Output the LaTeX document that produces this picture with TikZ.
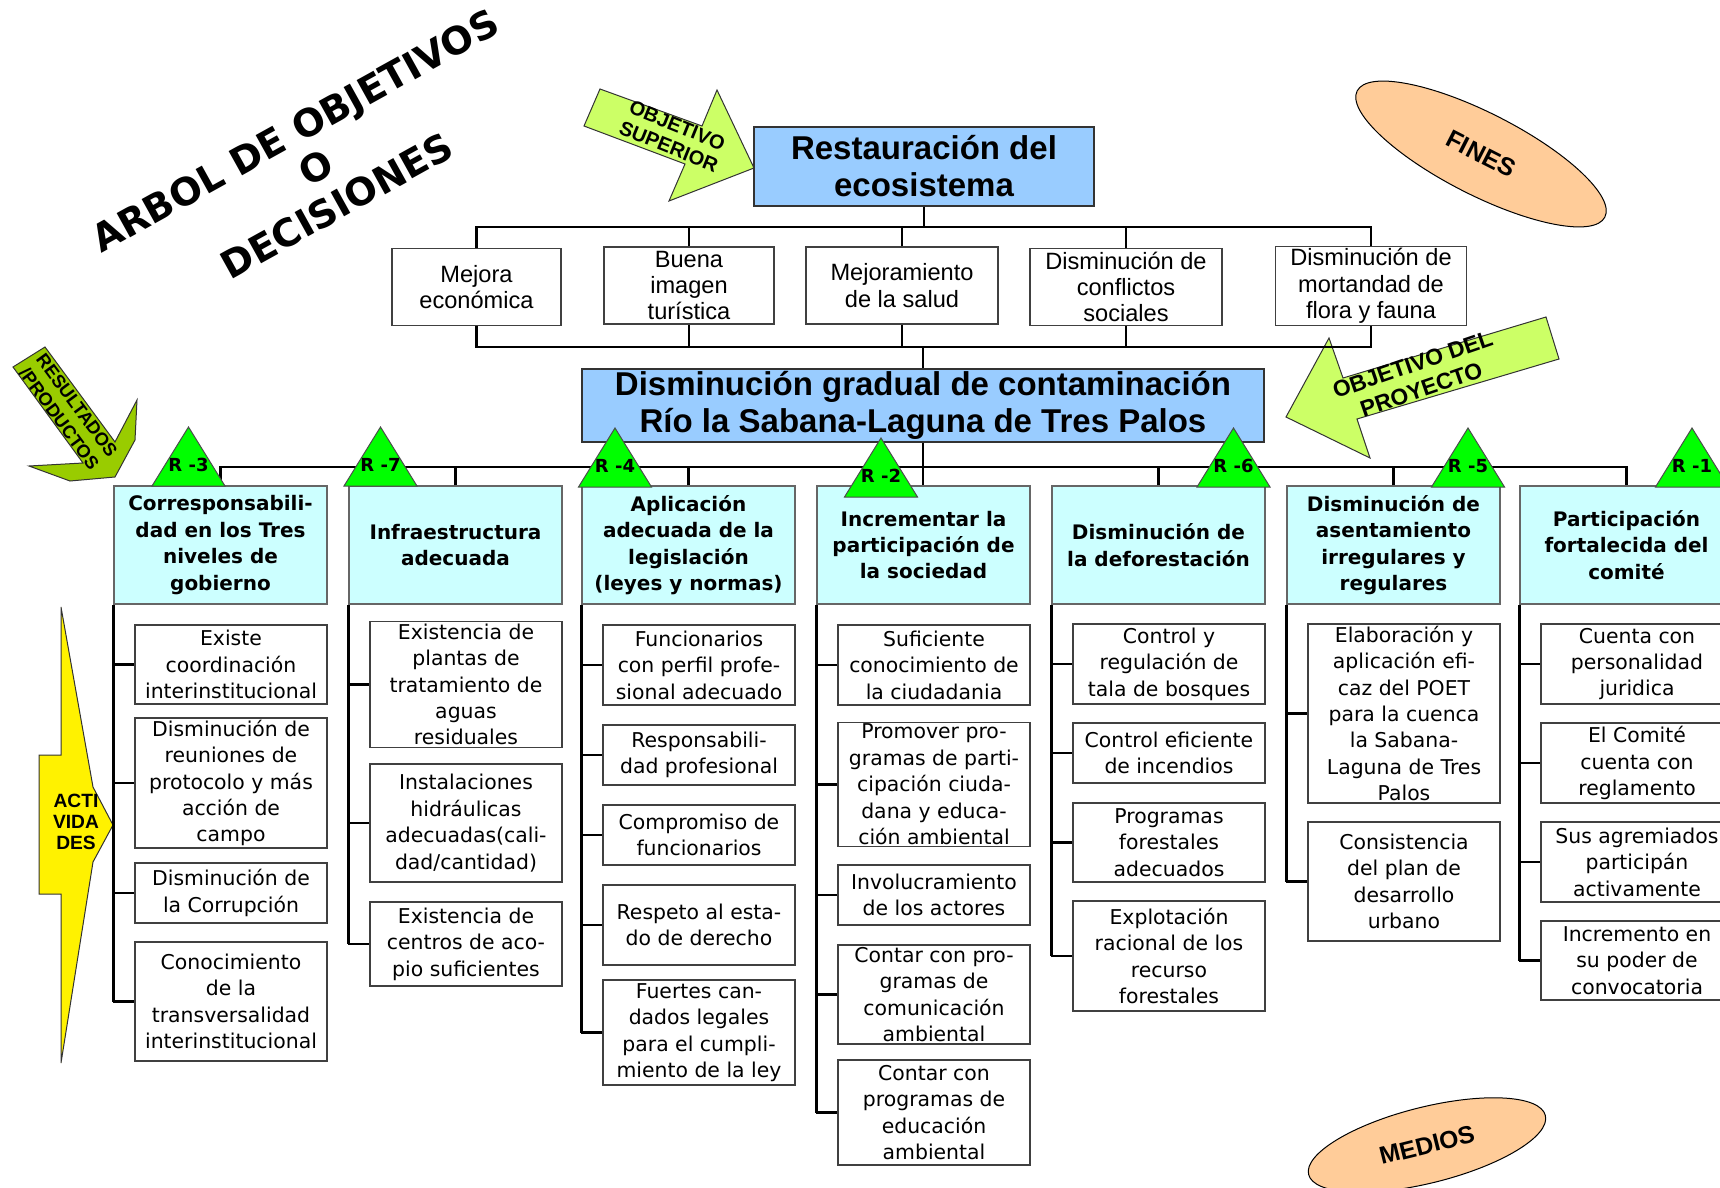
\documentclass[tikz,border=0pt]{standalone}
\usepackage{fontspec}
\setmainfont{Liberation Sans}
\newfontfamily\dvs{DejaVu Sans}
\usetikzlibrary{shapes.geometric}

\definecolor{objblue}{HTML}{99CCFF}
\definecolor{rescyan}{HTML}{CCFFFF}
\definecolor{arrowlime}{HTML}{CCFF66}
\definecolor{arrowolive}{HTML}{99CC00}
\definecolor{peach}{HTML}{FFCC99}
\definecolor{trigreen}{HTML}{00FF00}

\newcommand{\titlefont}{\dvs\bfseries\fontsize{19}{21.5}\selectfont}
\newcommand{\objfont}{\bfseries\fontsize{16.5}{18.5}\selectfont}
\newcommand{\finfont}{\fontsize{11.8}{13.2}\selectfont}
\newcommand{\resfont}{\dvs\bfseries\fontsize{10}{13.2}\selectfont}
\newcommand{\actfont}{\dvs\fontsize{10.2}{13.2}\selectfont}
\newcommand{\rfont}{\dvs\bfseries\fontsize{9}{10}\selectfont}

\tikzstyle{obj}=[draw=black!80,fill=objblue,align=center,font=\objfont,inner sep=1pt,line width=0.6pt]
\tikzstyle{fin}=[draw=black!75,fill=white,align=center,font=\finfont,inner sep=1pt,line width=0.6pt]
\tikzstyle{res}=[draw=black!60,fill=rescyan,align=center,font=\resfont,minimum width=106.5pt,minimum height=59pt,inner sep=1pt,line width=0.6pt]
\tikzstyle{act}=[draw=black!75,fill=white,align=center,font=\actfont,minimum width=96pt,inner sep=1pt,line width=0.6pt]
\tikzstyle{conn}=[line width=1.4pt]
\tikzstyle{tri}=[draw=black!70,fill=trigreen,line width=0.5pt]
\tikzstyle{rlab}=[font=\rfont,inner sep=0pt]
\tikzstyle{tag}=[align=center,inner sep=0pt]
\tikzstyle{blockarrow}=[draw=black!80,line width=0.5pt]
\tikzstyle{oval}=[ellipse,draw=black,fill=peach,inner sep=0pt,line width=0.5pt]

\begin{document}
\begin{tikzpicture}[x=0.5pt,y=-0.5pt]
    \useasboundingbox (0,0) rectangle (1720,1188);

    % title
    \node[rotate=29,align=center,font=\titlefont] (title) at (316,168) {ARBOL DE OBJETIVOS\\O\\DECISIONES};

    % block arrows
    \draw[blockarrow,fill=arrowlime] (600,89) -- (702,126) -- (717,90) -- (754,168) -- (669,201) -- (685,164) -- (584,126) -- cycle;
    \node[tag,rotate=-22,font=\bfseries\fontsize{10}{11.3}\selectfont] (sup) at (673,136) {OBJETIVO\\SUPERIOR};
    \draw[blockarrow,fill=arrowlime] (1546,317) -- (1559,359) -- (1357,419) -- (1370,458) -- (1286,417) -- (1329,338) -- (1343,378) -- cycle;
    \node[tag,rotate=19,font=\bfseries\fontsize{11.4}{13.4}\selectfont] (proy) at (1417,377) {OBJETIVO DEL\\PROYECTO};
    \draw[blockarrow,fill=arrowolive] (13,367) -- (45,347) -- (115,442) -- (137,400) -- (135,440) -- (115,477) -- (70,481) -- (29,466) -- (83,463) -- cycle;
    \node[tag,rotate=-53.6,font=\bfseries\fontsize{9.1}{11}\selectfont] (resul) at (68,412) {RESULTADOS\\/PRODUCTOS};
    \draw[blockarrow,fill=yellow] (61,607) -- (93,787) -- (113,825) -- (93,862) -- (61,1063) -- (61,894) -- (39,894) -- (39,755) -- (61,755) -- cycle;
    \node[tag,font=\bfseries\fontsize{9.6}{10.6}\selectfont] (activ) at (76,822) {ACTI\\VIDA\\DES};

    % ends and means
    \node[oval,minimum width=139pt,minimum height=41pt,rotate=-27,font=\bfseries\fontsize{12.5}{14}\selectfont] (fines) at (1481,154) {FINES};
    \node[oval,minimum width=122pt,minimum height=38pt,rotate=14,font=\bfseries\fontsize{12.3}{14}\selectfont] (medios) at (1427,1145) {MEDIOS};

    % objectives
    \node[obj,minimum width=170pt,minimum height=39.5pt] (eco) at (924,166.5) {Restauración del\\ecosistema};
    \node[obj,minimum width=341pt,minimum height=36.5pt] (proj) at (923,405.5) {Disminución gradual de contaminación\\Río la Sabana-Laguna de Tres Palos};

    \node[fin,minimum width=84.5pt,minimum height=38.5pt] (f1) at (476.5,287) {Mejora\\económica};
    \node[fin,minimum width=85pt,minimum height=38.5pt] (f2) at (689,285.5) {Buena\\imagen\\turística};
    \node[fin,minimum width=96pt,minimum height=38.5pt] (f3) at (902,285.5) {Mejoramiento\\de la salud};
    \node[fin,minimum width=96pt,minimum height=38.5pt] (f4) at (1126,287) {Disminución de\\conflictos\\sociales};
    \node[fin,minimum width=95.5pt,minimum height=38.5pt] (f5) at (1371,286) {Disminución de\\mortandad de\\flora y fauna};

    \coordinate (topbar) at (924,227);
    \coordinate (botbar) at (924,347);
    \coordinate (resbar) at (924,467);

    \draw[conn] (eco.south) -- (eco.south |- topbar);
    \draw[conn] (f1.north) |- (f5.north |- topbar) -- (f5.north);
    \draw[conn] (f1.south) |- (f5.south |- botbar) -- (f5.south);
    \foreach \n in {f2,f3,f4}
    {
        \draw[conn] (\n.north) -- (\n.north |- topbar);
        \draw[conn] (\n.south) -- (\n.south |- botbar);
    }
    \draw[conn] (proj.north |- botbar) -- (proj.north);

    % results
    \node[res] (h1) at (220.5,545)  {Corresponsabili-\\dad en los Tres\\niveles de\\gobierno};
    \node[res] (h2) at (455.5,545)  {Infraestructura\\adecuada};
    \node[res] (h3) at (688.5,545)  {Aplicación\\adecuada de la\\legislación\\(leyes y normas)};
    \node[res] (h4) at (923.5,545)  {Incrementar la\\participación de\\la sociedad};
    \node[res] (h5) at (1158.5,545) {Disminución de\\la deforestación};
    \node[res] (h6) at (1393.5,545) {Disminución de\\asentamiento\\irregulares y\\regulares};
    \node[res] (h7) at (1626.5,545) {Participación\\fortalecida del\\comité};

    \draw[conn] (proj.south) -- (proj.south |- h4.north);
    \draw[conn] (h1.north) |- (h7.north |- resbar) -- (h7.north);
    \foreach \n in {h2,h3,h5,h6}
    \draw[conn] (\n.north) -- (\n.north |- resbar);

    % activities
    \node[act,minimum height=39.5pt] (a11) at (231,664.5) {Existe\\coordinación\\interinstitucional};
    \node[act,minimum height=59pt]   (a12) at (231,783)   {Disminución de\\reuniones de\\protocolo y más\\acción de\\campo};
    \node[act,minimum height=30pt]   (a13) at (231,893)   {Disminución de\\la Corrupción};
    \node[act,minimum height=59.5pt] (a14) at (231,1001.5) {Conocimiento\\de la\\transversalidad\\interinstitucional};

    \node[act,minimum height=59.5pt] (a21) at (466,684.5) {Existencia de\\plantas de\\tratamiento de\\aguas\\residuales};
    \node[act,minimum height=59pt]   (a22) at (466,823)   {Instalaciones\\hidráulicas\\adecuadas(cali-\\dad/cantidad)};
    \node[act,minimum height=42pt]   (a23) at (466,944)   {Existencia de\\centros de aco-\\pio suficientes};

    \node[act,minimum height=40pt]   (a31) at (699,665)    {Funcionarios\\con perfil profe-\\sional adecuado};
    \node[act,minimum height=30pt]   (a32) at (699,755)    {Responsabili-\\dad profesional};
    \node[act,minimum height=30pt]   (a33) at (699,835)    {Compromiso de\\funcionarios};
    \node[act,minimum height=40pt]   (a34) at (699,925)    {Respeto al esta-\\do de derecho};
    \node[act,minimum height=52.5pt] (a35) at (699,1032.5) {Fuertes can-\\dados legales\\para el cumpli-\\miento de la ley};

    \node[act,minimum height=40pt]   (a41) at (934,665)    {Suficiente\\conocimiento de\\la ciudadania};
    \node[act,minimum height=59.5pt] (a42) at (934,784.5)  {Promover pro-\\gramas de parti-\\cipación ciuda-\\dana y educa-\\ción ambiental};
    \node[act,minimum height=30pt]   (a43) at (934,895)    {Involucramiento\\de los actores};
    \node[act,minimum height=49.5pt] (a44) at (934,994.5)  {Contar con pro-\\gramas de\\comunicación\\ambiental};
    \node[act,minimum height=52.5pt] (a45) at (934,1112.5) {Contar con\\programas de\\educación\\ambiental};

    \node[act,minimum height=40pt]   (a51) at (1169,664)   {Control y\\regulación de\\tala de bosques};
    \node[act,minimum height=30pt]   (a52) at (1169,753)   {Control eficiente\\de incendios};
    \node[act,minimum height=39.5pt] (a53) at (1169,842.5) {Programas\\forestales\\adecuados};
    \node[act,minimum height=55pt]   (a54) at (1169,956)   {Explotación\\racional de los\\recurso\\forestales};

    \node[act,minimum height=89.5pt] (a61) at (1404,713.5) {Elaboración y\\aplicación efi-\\caz del POET\\para la cuenca\\la Sabana-\\Laguna de Tres\\Palos};
    \node[act,minimum height=59.5pt] (a62) at (1404,881.5) {Consistencia\\del plan de\\desarrollo\\urbano};

    \node[act,minimum height=40pt]   (a71) at (1637,664)   {Cuenta con\\personalidad\\juridica};
    \node[act,minimum height=40pt]   (a72) at (1637,763)   {El Comité\\cuenta con\\reglamento};
    \node[act,minimum height=40pt]   (a73) at (1637,862)   {Sus agremiados\\participán\\activamente};
    \node[act,minimum height=39.5pt] (a74) at (1637,960.5) {Incremento en\\su poder de\\convocatoria};

    \foreach \h/\a in {h1/a14,h2/a23,h3/a35,h4/a45,h5/a54,h6/a62,h7/a74}
    \draw[conn] (\h.south west) -- (\h.south west |- \a.west);
    \foreach \h/\a in {h1/a11,h1/a12,h1/a13,h1/a14,h2/a21,h2/a22,h2/a23,h3/a31,h3/a32,h3/a33,h3/a34,h3/a35,
                       h4/a41,h4/a42,h4/a43,h4/a44,h4/a45,h5/a51,h5/a52,h5/a53,h5/a54,h6/a61,h6/a62,
                       h7/a71,h7/a72,h7/a73,h7/a74}
    \draw[conn] (\h.south west |- \a.west) -- (\a.west);

    % result markers
    \foreach \x/\y/\r in {188.5/486/3,380.5/486/7,615/487/4,881/497/2,1233.5/487/6,1468/487/5,1692/487/1}
    {
        \draw[tri] (\x-36.5,\y) -- (\x,\y-59) -- (\x+36.5,\y) -- cycle;
        \node[rlab] (r\r) at (\x,\y-21) {R -\r};
    }
\end{tikzpicture}
\end{document}
